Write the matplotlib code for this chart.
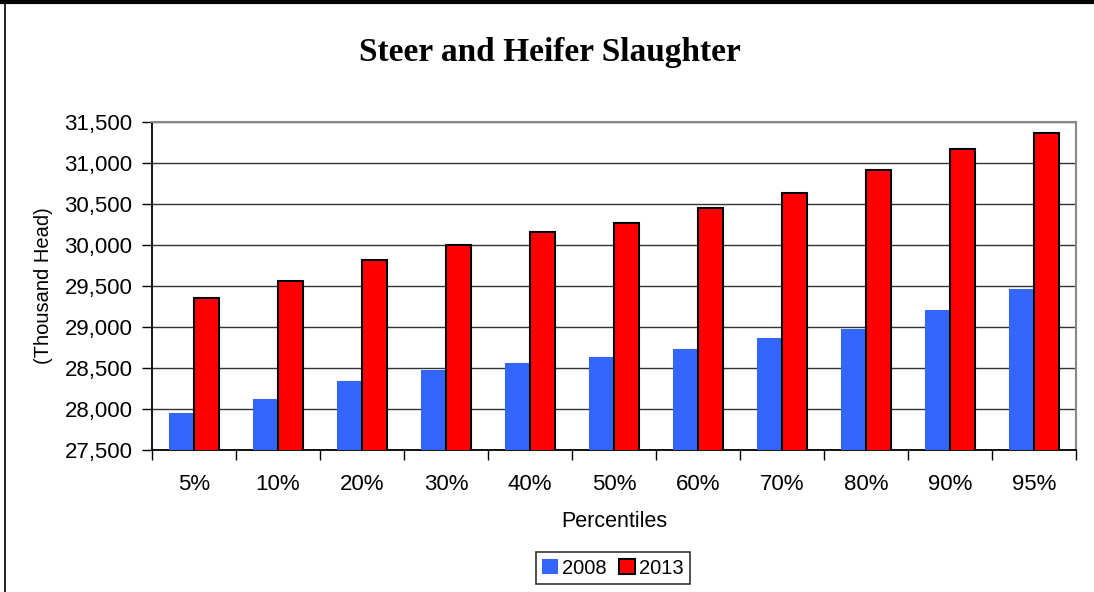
import matplotlib.pyplot as plt
import numpy as np
from matplotlib.lines import Line2D
from matplotlib.ticker import FuncFormatter, MultipleLocator

percentiles = ['5%', '10%', '20%', '30%', '40%', '50%', '60%', '70%', '80%', '90%', '95%']
y2008 = [27947, 28126, 28337, 28472, 28557, 28630, 28732, 28862, 28972, 29203, 29459]
y2013 = [29358, 29565, 29813, 30000, 30154, 30272, 30451, 30638, 30919, 31167, 31370]

W, H = 1094, 592
fig = plt.figure(figsize=(W / 100, H / 100), dpi=100)
ax = fig.add_axes([152 / W, 1 - 450 / H, 924 / W, 328 / H])

x = np.arange(len(percentiles))
bw = 0.3
ax.bar(x - bw / 2, y2008, bw, color='#3366FF', label='2008', zorder=3)
ax.bar(x + bw / 2, y2013, bw, color='#FF0000', edgecolor='black', linewidth=1.5,
       label='2013', zorder=3)

ax.set_xlim(-0.5, len(percentiles) - 0.5)
ax.set_ylim(27500, 31500)
ax.yaxis.set_major_locator(MultipleLocator(500))
ax.yaxis.set_major_formatter(FuncFormatter(lambda v, p: f'{v:,.0f}'))
ax.grid(axis='y', color='#333333', linewidth=1, zorder=0)

# category labels centred, ticks at category boundaries
ax.set_xticks(x)
ax.set_xticklabels(percentiles, fontsize=16, fontfamily='Liberation Sans')
ax.tick_params(axis='x', which='major', length=0, pad=17)
ax.set_xticks(np.arange(-0.5, len(percentiles)), minor=True)
ax.tick_params(axis='x', which='minor', length=7, width=1, direction='out')
ax.tick_params(axis='y', length=7, width=1, direction='out', pad=7, labelsize=16)
for lab in ax.get_yticklabels():
    lab.set_fontfamily('Liberation Sans')

for side in ['left', 'bottom']:
    ax.spines[side].set_color('black')
    ax.spines[side].set_linewidth(1.3)
for side in ['top', 'right']:
    ax.spines[side].set_color('#888888')
    ax.spines[side].set_linewidth(1.5)

ax.set_xlabel('Percentiles', fontsize=15.5, fontfamily='Liberation Sans', labelpad=12)
ax.set_ylabel('(Thousand Head)', fontsize=14.5, fontfamily='Liberation Sans', labelpad=8)

fig.text(550 / W, 1 - 52 / H, 'Steer and Heifer Slaughter', ha='center', va='center',
         fontsize=24, fontweight='bold', fontfamily='Liberation Serif')

leg = fig.legend(loc='center', bbox_to_anchor=(613 / W, 1 - 568 / H), ncol=2,
                 prop={'family': 'Liberation Sans', 'size': 14.5}, frameon=True,
                 fancybox=False, edgecolor='black', handlelength=0.8, handleheight=0.8,
                 handletextpad=0.2, columnspacing=0.6, borderpad=0.3)
leg.get_frame().set_linewidth(1.2)

# outer chart border (top and left visible)
fig.add_artist(Line2D([0, 1], [1 - 2 / H, 1 - 2 / H], color='black', linewidth=3,
                      transform=fig.transFigure))
fig.add_artist(Line2D([5 / W, 5 / W], [0, 1], color='black', linewidth=1.2,
                      transform=fig.transFigure))

fig.savefig('out.png', dpi=100)
